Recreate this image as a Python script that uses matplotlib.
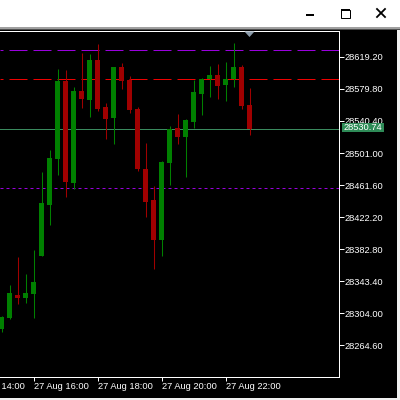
import matplotlib
matplotlib.use("Agg")
import matplotlib.pyplot as plt
import matplotlib.transforms as mtransforms
from matplotlib.patches import Rectangle, Polygon
from matplotlib.lines import Line2D

plt.rcParams['lines.scale_dashes'] = False
plt.rcParams['font.family'] = ['Liberation Sans', 'DejaVu Sans']

# ---------------- data ----------------
times = ["15:00", "15:15", "15:30", "15:45", "16:00", "16:15", "16:30", "16:45",
         "17:00", "17:15", "17:30", "17:45", "18:00", "18:15", "18:30", "18:45",
         "19:00", "19:15", "19:30", "19:45", "20:00", "20:15", "20:30", "20:45",
         "21:00", "21:15", "21:30", "21:45", "22:00", "22:15", "22:30", "22:45"]
opens = [28284.8, 28298.3, 28326.6, 28322.9, 28327.8, 28374.5, 28437.1, 28493.6,
         28589.5, 28464.1, 28577.2, 28566.1, 28615.3, 28557.5, 28544.0, 28606.7,
         28590.7, 28555.1, 28481.3, 28443.2, 28394.1, 28488.7, 28531.7, 28520.7,
         28539.1, 28573.5, 28591.9, 28596.8, 28584.6, 28591.9, 28606.7, 28560.0]
highs = [28300.5, 28338.8, 28373.2, 28352.3, 28381.8, 28477.6, 28504.7, 28604.2,
         28603.0, 28582.1, 28623.9, 28622.6, 28634.9, 28562.4, 28607.2, 28611.6,
         28595.6, 28557.5, 28513.3, 28460.4, 28491.2, 28534.1, 28548.9, 28542.8,
         28590.7, 28593.2, 28607.9, 28610.4, 28612.8, 28636.2, 28609.1, 28580.9]
lows = [28281.1, 28297.5, 28315.5, 28316.7, 28298.3, 28374.0, 28412.5, 28473.9,
        28446.9, 28456.8, 28556.3, 28545.2, 28552.6, 28518.2, 28512.1, 28579.6,
        28550.1, 28478.9, 28422.4, 28358.5, 28374.5, 28461.7, 28512.1, 28471.5,
        28531.7, 28547.7, 28569.8, 28567.3, 28564.9, 28582.1, 28555.1, 28523.1]
closes = [28299.5, 28329.0, 28322.9, 28329.0, 28342.5, 28439.6, 28494.9, 28589.5,
          28465.3, 28577.2, 28567.3, 28615.3, 28555.1, 28542.8, 28606.7, 28589.5,
          28553.8, 28481.3, 28440.8, 28394.1, 28489.9, 28530.5, 28520.7, 28541.5,
          28575.9, 28591.9, 28596.8, 28583.3, 28591.9, 28606.7, 28558.7, 28530.74]

price_ticks = [28264.60, 28304.00, 28343.40, 28382.80, 28422.20,
               28461.60, 28501.00, 28540.40, 28579.80, 28619.20]
time_tick_times = ["14:00", "16:00", "18:00", "20:00", "22:00"]
time_tick_labels = ["27 Aug 14:00", "27 Aug 16:00", "27 Aug 18:00",
                    "27 Aug 20:00", "27 Aug 22:00"]

level_purple_dash = 28627.2
level_red_dash = 28591.6
level_purple_dot = 28457.6
current_price = 28530.74
current_label = "28530.74"

# ---------------- figure ----------------
W = H = 400
fig = plt.figure(figsize=(4, 4), dpi=100, facecolor='black')
ax = fig.add_axes([0, 23 / H, 339 / W, 346 / H], facecolor='black')
ax.set_xlim(-0.1875, 42.1875)
ax.set_ylim(28225.8, 28650.9)

GREEN = '#008000'
RED = '#a00000'
xs = list(range(len(times)))
for i in xs:
    o, h, l, c = opens[i], highs[i], lows[i], closes[i]
    col = GREEN if c >= o else RED
    ax.vlines(i, l, h, color=col, lw=0.75, zorder=3)
    ax.bar(i, abs(c - o), bottom=min(o, c), width=0.62, color=col,
           linewidth=0, zorder=4)

px = 0.72  # points per pixel
ax.axhline(level_purple_dash, color='#9900dd', lw=1.0 * px,
           linestyle=(15 * px, (18 * px, 6 * px)), zorder=2)
ax.axhline(level_red_dash, color='#ee0000', lw=1.0 * px,
           linestyle=(15 * px, (18 * px, 6 * px)), zorder=2)
ax.axhline(level_purple_dot, color='#9900dd', lw=1.0 * px,
           linestyle=(0, (3 * px, 3 * px)), zorder=2)
ax.axhline(current_price, color='#3a8a5e', lw=1.0 * px, zorder=2)

for side in ['top', 'right', 'bottom']:
    ax.spines[side].set_color('white')
    ax.spines[side].set_linewidth(1.0 * px)
ax.spines['left'].set_visible(False)

# y axis on the right
ax.yaxis.tick_right()
ax.set_yticks(price_ticks)
ax.set_yticklabels([f"{p:.2f}" for p in price_ticks])
ax.tick_params(axis='y', colors='white', length=5 * px, width=1.0 * px,
               pad=0.3, labelsize=6.7, labelcolor='white')

# x axis ticks & labels
def bar_pos(t):
    hh, mm = map(int, t.split(':'))
    h0, m0 = map(int, times[0].split(':'))
    return ((hh * 60 + mm) - (h0 * 60 + m0)) / 15.0

tick_pos = [bar_pos(t) for t in time_tick_times]
vis = [p for p in tick_pos if ax.get_xlim()[0] <= p <= ax.get_xlim()[1]]
ax.set_xticks(vis)
ax.set_xticklabels([])
ax.tick_params(axis='x', colors='white', length=3.5 * px, width=1.0 * px)
off = mtransforms.ScaledTranslation(1 / 100, -12 / 100, fig.dpi_scale_trans)
for p, lab in zip(tick_pos, time_tick_labels):
    ax.text(p, 0, lab, transform=ax.get_xaxis_transform() + off,
            ha='left', va='baseline', color='white', fontsize=6.7,
            clip_on=False)

# ---------------- overlay (window chrome, price label) ----------------
ov = fig.add_axes([0, 0, 1, 1], facecolor='none', zorder=5)
ov.set_xlim(0, W)
ov.set_ylim(H, 0)
ov.axis('off')

ov.add_patch(Rectangle((0, 0), W, 27, color='white', lw=0))
ov.add_patch(Rectangle((0, 27), W, 1.5, color='#a0a0a0', lw=0))
ov.add_patch(Rectangle((0, 28.5), W, 1.5, color='#505050', lw=0))
ov.add_patch(Rectangle((397, 30), 3, 370, color='#f0f0f0', lw=0))
ov.add_patch(Rectangle((0, 398), W, 2, color='#f0f0f0', lw=0))

# window buttons
ov.add_patch(Rectangle((306, 14), 8, 2, color='black', lw=0))
ov.add_patch(Rectangle((340.5, 9.5), 9, 8.5, fill=False, ec='black', lw=1.0 * px))
ov.add_patch(Rectangle((340.5, 9), 9.5, 2, color='black', lw=0))
ov.add_line(Line2D([377, 385], [9, 17], color='black', lw=1.8 * px))
ov.add_line(Line2D([377, 385], [17, 9], color='black', lw=1.8 * px))

# shift marker triangle
tx = ax.transData.transform((xs[-1], 0))[0]
ov.add_patch(Polygon([(tx - 5, 31.5), (tx + 5, 31.5), (tx, 37)], closed=True,
                     color='#8c9cab', lw=0))

# current price label
cy = H - ax.transData.transform((0, current_price))[1]
ov.add_patch(Rectangle((341.7, cy - 5.7), 42.6, 8.4, color='#2e8b57', lw=0))
ov.text(343.2, cy - 1.4, current_label, color='white', fontsize=6.7,
        ha='left', va='center')

fig.savefig('out.png', dpi=100, facecolor='black')
